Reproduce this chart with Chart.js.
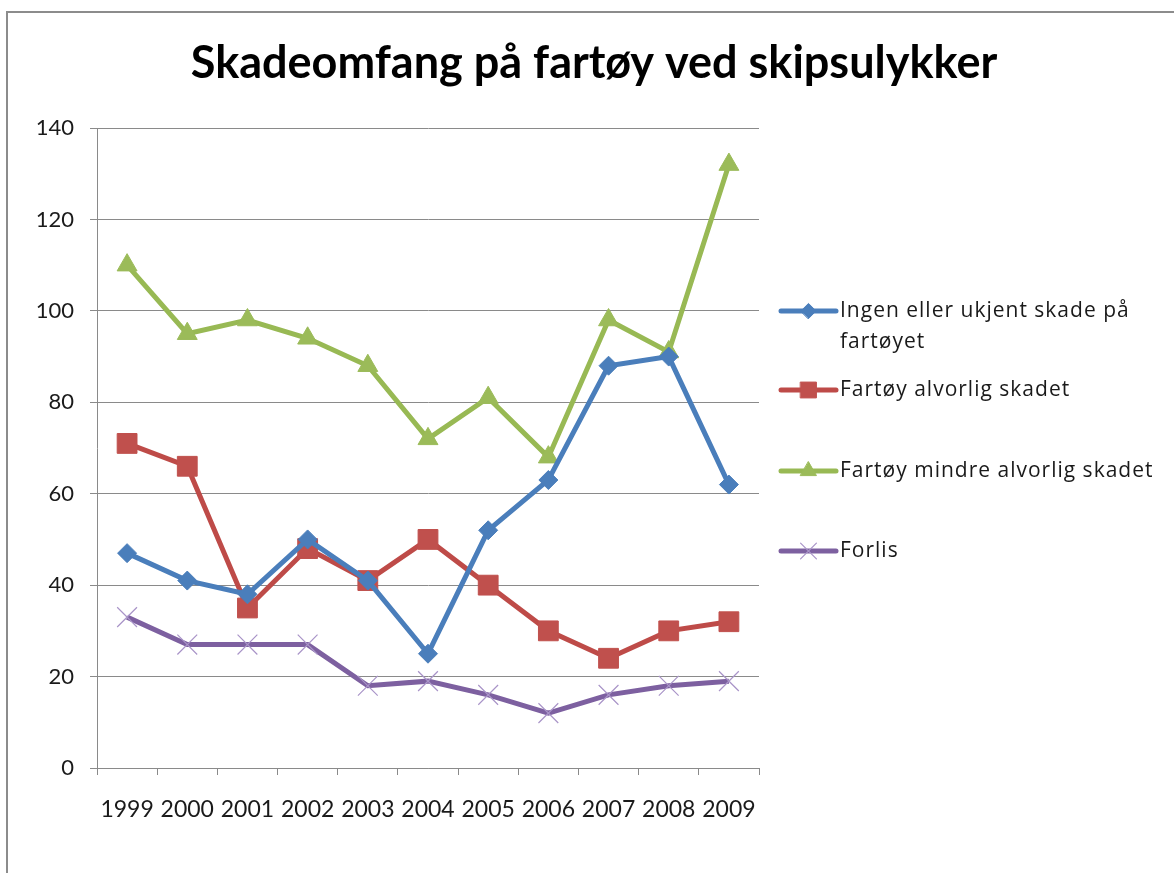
<!DOCTYPE html>
<html>
<head>
<meta charset="utf-8">
<script src="https://cdn.jsdelivr.net/npm/chart.js@4.4.0/dist/chart.umd.min.js"></script>
<style>
  html, body { margin: 0; padding: 0; width: 1174px; height: 873px; overflow: hidden; background: #fff; }
  #frame { position: absolute; left: 6px; top: 11px; width: 1300px; height: 1000px; border: 2px solid #8c8c8c; background: #fff; box-sizing: border-box; }
  #wrap { position: absolute; left: 14px; top: 0; width: 1160px; height: 873px; }
</style>
</head>
<body>
<div id="frame"></div>
<div id="wrap"><canvas id="c" width="1160" height="873"></canvas></div>
<script>
const title = 'Skadeomfang på fartøy ved skipsulykker';
const years = ['1999','2000','2001','2002','2003','2004','2005','2006','2007','2008','2009'];
const seriesNames = ['Ingen eller ukjent skade på fartøyet', 'Fartøy alvorlig skadet', 'Fartøy mindre alvorlig skadet', 'Forlis'];
const ingenSkade = [47, 41, 38, 50, 41, 25, 52, 63, 88, 90, 62];
const alvorligSkadet = [71, 66, 35, 48, 41, 50, 40, 30, 24, 30, 32];
const mindreAlvorlig = [110, 95, 98, 94, 88, 72, 81, 68, 98, 91, 132];
const forlis = [33, 27, 27, 27, 18, 19, 16, 12, 16, 18, 19];
const yTicks = [0, 20, 40, 60, 80, 100, 120, 140];

const FONT = 'Lato, "Open Sans", sans-serif';
const LEGEND_FONT = '"Open Sans", Lato, sans-serif';

const titlePlugin = {
  id: 'centerTitle',
  afterDraw(chart, args, opts) {
    const ctx = chart.ctx;
    ctx.save();
    ctx.font = opts.font;
    ctx.fillStyle = opts.color;
    ctx.textAlign = 'center';
    ctx.textBaseline = 'alphabetic';
    ctx.fillText(opts.text, opts.x, opts.y);
    ctx.restore();
  }
};

const legendPlugin = {
  id: 'sideLegend',
  afterDraw(chart, args, opts) {
    const ctx = chart.ctx;
    ctx.save();
    ctx.font = opts.font;
    if ('letterSpacing' in ctx) ctx.letterSpacing = opts.letterSpacing;
    ctx.textBaseline = 'middle';
    ctx.textAlign = 'left';
    chart.data.datasets.forEach((ds, i) => {
      const y = opts.ys[i];
      ctx.strokeStyle = ds.borderColor;
      ctx.lineWidth = ds.borderWidth;
      ctx.lineCap = 'round';
      ctx.beginPath();
      ctx.moveTo(opts.x0, y);
      ctx.lineTo(opts.x1, y);
      ctx.stroke();
      ctx.fillStyle = ds.pointBackgroundColor;
      ctx.strokeStyle = ds.pointBorderColor;
      ctx.lineWidth = ds.pointBorderWidth;
      Chart.helpers.drawPoint(ctx, { pointStyle: ds.pointStyle, radius: ds.pointRadius * opts.markerScale, borderWidth: ds.pointBorderWidth, rotation: 0 }, (opts.x0 + opts.x1) / 2, y);
      ctx.fillStyle = opts.color;
      const words = ds.label.split(' ');
      const lines = [];
      let cur = '';
      words.forEach(w => {
        const t = cur ? cur + ' ' + w : w;
        if (ctx.measureText(t).width > opts.maxWidth && cur) { lines.push(cur); cur = w; }
        else cur = t;
      });
      if (cur) lines.push(cur);
      lines.forEach((ln, k) => ctx.fillText(ln, opts.textX, y + k * opts.lineHeight));
    });
    ctx.restore();
  }
};

const datasets = [
  { label: seriesNames[0], data: ingenSkade, borderColor: '#4a7ebb',
    pointStyle: 'rectRot', pointRadius: 9.5, pointBackgroundColor: '#4a7ebb', pointBorderColor: '#4a7ebb', pointBorderWidth: 1 },
  { label: seriesNames[1], data: alvorligSkadet, borderColor: '#be4b48',
    pointStyle: 'rect', pointRadius: 14, pointBackgroundColor: '#c0504d', pointBorderColor: '#c0504d', pointBorderWidth: 1 },
  { label: seriesNames[2], data: mindreAlvorlig, borderColor: '#98b954',
    pointStyle: 'triangle', pointRadius: 11.5, pointBackgroundColor: '#9bbb59', pointBorderColor: '#9bbb59', pointBorderWidth: 1 },
  { label: seriesNames[3], data: forlis, borderColor: '#7d60a0',
    pointStyle: 'crossRot', pointRadius: 14, pointBackgroundColor: 'rgba(0,0,0,0)', pointBorderColor: '#a994c8', pointBorderWidth: 1.2 }
];
datasets.forEach(d => { d.borderWidth = 5; d.tension = 0; d.fill = false; d.backgroundColor = d.pointBackgroundColor; d.pointHoverRadius = d.pointRadius; });

new Chart(document.getElementById('c'), {
  type: 'line',
  data: { labels: years, datasets },
  plugins: [titlePlugin, legendPlugin],
  options: {
    responsive: false,
    animation: false,
    events: [],
    layout: { padding: { left: 0, right: 415, top: 128, bottom: 0 } },
    plugins: {
      legend: { display: false },
      tooltip: { enabled: false },
      title: { display: false },
      centerTitle: { text: title, x: 580, y: 78, font: 'bold 45px ' + FONT, color: '#000' },
      sideLegend: { x0: 767, x1: 822, textX: 826, ys: [311, 390, 471, 551], lineHeight: 31, maxWidth: 325, markerScale: 0.8,
        font: '21px ' + LEGEND_FONT, letterSpacing: '1px', color: '#1a1a1a' }
    },
    scales: {
      x: {
        type: 'category', offset: true,
        afterFit(s) { s.height = 105; },
        grid: { display: true, offset: true, drawOnChartArea: false, drawTicks: true, tickLength: 7, color: '#8a8a8a', lineWidth: 1 },
        border: { display: true, color: '#8a8a8a', width: 1 },
        ticks: { color: '#1a1a1a', font: { family: FONT, size: 23 }, padding: 21, maxRotation: 0, autoSkip: false }
      },
      y: {
        min: 0, max: 140,
        afterFit(s) { s.width = 83; },
        afterBuildTicks(s) { s.ticks = yTicks.map(v => ({ value: v })); },
        grid: { color: '#8a8a8a', lineWidth: 1, drawTicks: true, tickLength: 7 },
        border: { display: true, color: '#8a8a8a', width: 1 },
        ticks: { color: '#1a1a1a', font: { family: FONT, size: 22 }, padding: 16 }
      }
    }
  }
});
</script>
</body>
</html>
